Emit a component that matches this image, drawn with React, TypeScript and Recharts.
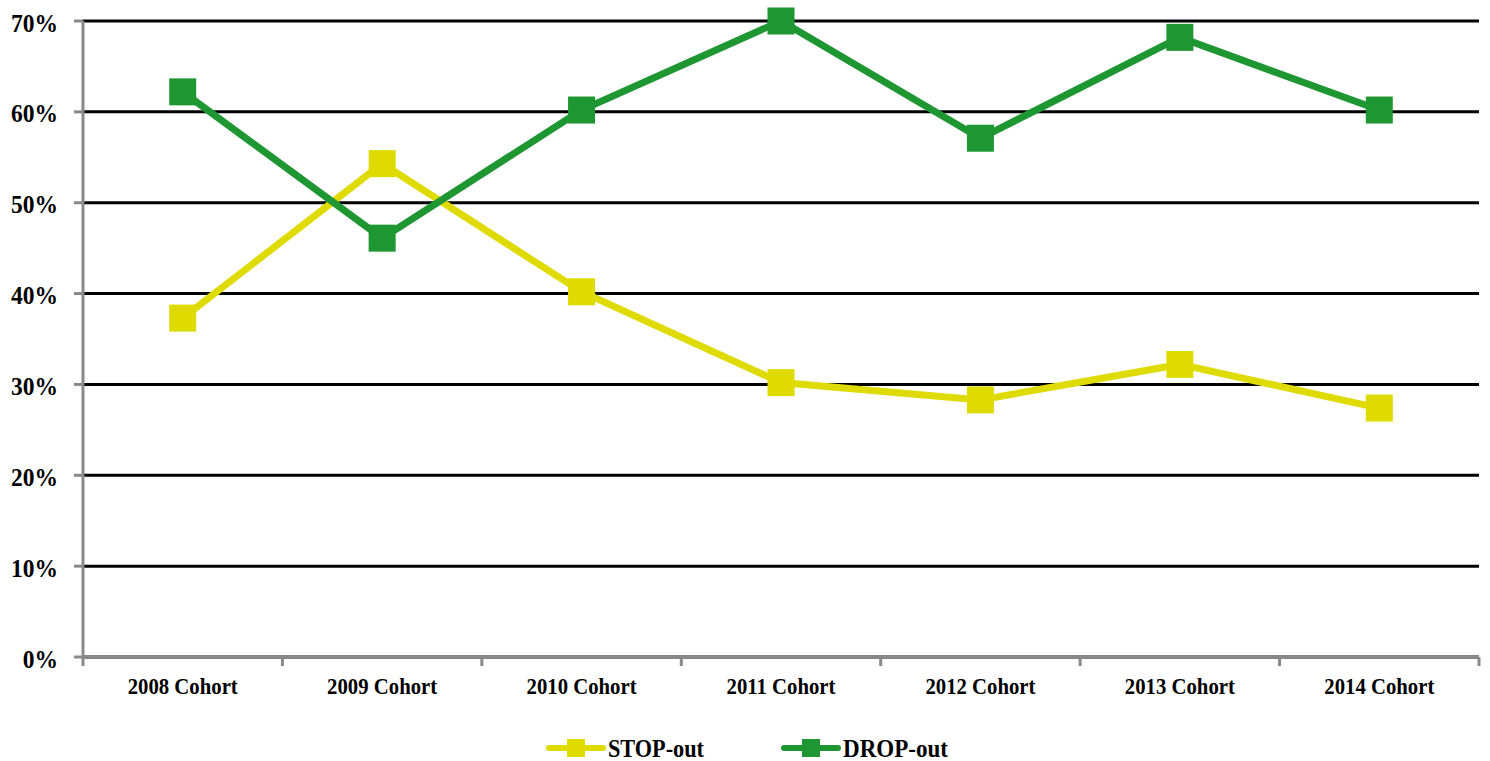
import React from 'react';
import { LineChart, Line, XAxis, YAxis, CartesianGrid, Legend } from 'recharts';

const cohorts = ['2008 Cohort', '2009 Cohort', '2010 Cohort', '2011 Cohort', '2012 Cohort', '2013 Cohort', '2014 Cohort'];
const stopOut = [37.3, 54.3, 40.2, 30.2, 28.3, 32.2, 27.4];
const dropOut = [62.2, 46.1, 60.2, 70.0, 57.1, 68.2, 60.2];
const yTicks = [0, 10, 20, 30, 40, 50, 60, 70];

const YELLOW = '#dfdb00';
const GREEN = '#1e9632';
const AXIS = '#898989';
const FONT = '"Liberation Serif", "Times New Roman", serif';

const W = 1490;
const H = 761;
const Y_W = 83;
const M_RIGHT = 11;
const BAND = (W - Y_W - M_RIGHT) / cohorts.length;

const data = cohorts.map((c, i) => ({ cohort: c, stop: stopOut[i], drop: dropOut[i] }));

const square = (color: string, size: number) => (props: any) => {
  const { cx, cy, index } = props;
  if (cx == null || cy == null) return <g key={index} />;
  return <rect key={index} x={cx - size / 2} y={cy - size / 2} width={size} height={size} fill={color} />;
};

// label at band centre, tick marks on band edges
const XTick = (props: any) => {
  const { x, y, payload, index } = props;
  return (
    <g>
      <line x1={x - BAND / 2} x2={x - BAND / 2} y1={y} y2={y + 9} stroke={AXIS} strokeWidth={3} />
      {index === cohorts.length - 1 && (
        <line x1={x + BAND / 2} x2={x + BAND / 2} y1={y} y2={y + 9} stroke={AXIS} strokeWidth={3} />
      )}
      <text transform={`translate(${x},${y + 37}) scale(0.865,1)`} textAnchor="middle"
        fontFamily={FONT} fontWeight="bold" fontSize={24} fill="#000">
        {payload.value}
      </text>
    </g>
  );
};

const YTick = (props: any) => {
  const { x, y, payload } = props;
  return (
    <text transform={`translate(${x},${y + 10.5}) scale(0.96,1)`} textAnchor="end"
      fontFamily={FONT} fontWeight="bold" fontSize={24.5} fill="#000">
      {`${payload.value}%`}
    </text>
  );
};

const legendItems = [
  { label: 'STOP-out', color: YELLOW, textW: 96 },
  { label: 'DROP-out', color: GREEN, textW: 105 },
];

const LegendContent = () => (
  <div style={{ display: 'flex', justifyContent: 'center', alignItems: 'center', gap: 76, height: 26, paddingLeft: 18 }}>
    {legendItems.map(it => (
      <svg key={it.label} width={63 + it.textW} height={26} style={{ display: 'block', overflow: 'visible' }}>
        <line x1={2} x2={56} y1={13} y2={13} stroke={it.color} strokeWidth={6} strokeLinecap="round" />
        <rect x={20} y={4} width={18} height={18} fill={it.color} />
        <text x={61} y={21.5} textLength={it.textW} lengthAdjust="spacingAndGlyphs"
          fontFamily={FONT} fontWeight="bold" fontSize={25} fill="#000">
          {it.label}
        </text>
      </svg>
    ))}
  </div>
);

export default function App() {
  return (
    <div style={{ position: 'absolute', left: 0, top: 0, width: W, height: H, background: '#fff' }}>
      <LineChart width={W} height={H} data={data} margin={{ top: 21, right: M_RIGHT, left: 0, bottom: 0 }}>
        <CartesianGrid horizontal vertical={false} stroke="#000" strokeWidth={3} />
        <XAxis
          dataKey="cohort"
          scale="band"
          height={78}
          axisLine={{ stroke: AXIS, strokeWidth: 3 }}
          tickLine={false}
          tickSize={0}
          tickMargin={0}
          interval={0}
          tick={<XTick />}
        />
        <YAxis
          width={Y_W}
          domain={[0, 70]}
          ticks={yTicks}
          interval={0}
          axisLine={{ stroke: AXIS, strokeWidth: 3 }}
          tickLine={{ stroke: AXIS, strokeWidth: 3 }}
          tickSize={9}
          tickMargin={16}
          tick={<YTick />}
        />
        <Legend verticalAlign="bottom" height={26} content={<LegendContent />} wrapperStyle={{ height: 26 }} />
        <Line dataKey="stop" name="STOP-out" stroke={YELLOW} strokeWidth={7}
          dot={square(YELLOW, 27)} activeDot={false} isAnimationActive={false} />
        <Line dataKey="drop" name="DROP-out" stroke={GREEN} strokeWidth={7}
          dot={square(GREEN, 27)} activeDot={false} isAnimationActive={false} />
      </LineChart>
    </div>
  );
}
